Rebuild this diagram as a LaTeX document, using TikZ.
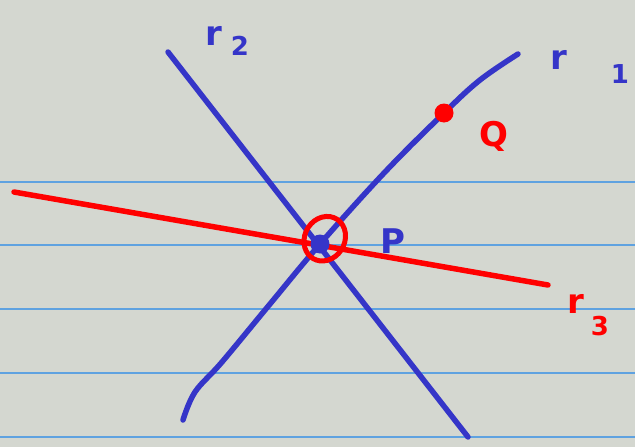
\documentclass[tikz,border=0pt]{standalone}
\usepackage{fontspec}
\setmainfont{DejaVu Sans}
\begin{document}
\begin{tikzpicture}[x=1pt,y=-1pt,line cap=round,line join=round,
  rule/.style={draw=ruleblue,line width=1.2pt},
  blueline/.style={draw=penblue,line width=5.5pt},
  redline/.style={draw=penred,line width=5.5pt},
  bluelbl/.style={text=penblue,font=\bfseries\fontsize{34}{34}\selectfont},
  redlbl/.style={text=penred,font=\bfseries\fontsize{34}{34}\selectfont},
  sublbl/.style={font=\bfseries\fontsize{26}{26}\selectfont}]
\definecolor{bg}{HTML}{D4D7D0}
\definecolor{ruleblue}{HTML}{5FA2E0}
\definecolor{penblue}{HTML}{3535C8}
\definecolor{penred}{HTML}{FF0000}
\fill[bg] (0,0) rectangle (635,447);
\useasboundingbox (0,0) rectangle (635,447);
% ruled lines
\foreach \yy in {182,245,309,373,437} \draw[rule] (0,\yy) -- (635,\yy);
% points
\coordinate (P) at (320,244);
\coordinate (Q) at (444,113);
\coordinate (C) at (323,240);
\coordinate (r2a) at (168,52);
\coordinate (r2b) at (468,437);
\coordinate (r3a) at (14,192);
\coordinate (r3b) at (548,285);
% r2
\draw[blueline] (r2a) -- (r2b);
% r1
\draw[blueline] plot[smooth,tension=0.6] coordinates {(183,420) (195,392) (222,362) (270,304) (P) (385,172) (Q) (480,80) (518,54)};
% r3
\draw[redline] (r3a) -- (r3b);
% dots
\fill[penblue] (P) circle (9.5);
\fill[penred] (Q) circle (9.5);
% loop around P
\draw[penred,line width=5pt,rotate around={-30:(C)}] ([shift={(150:19)}]C) arc[start angle=150,end angle=500,x radius=20,y radius=23];
% labels
\node[bluelbl] (l2) at (214,36) {r};
\node[bluelbl,sublbl] (l2s) at (240,46) {2};
\node[bluelbl] (l1) at (559,60) {r};
\node[bluelbl,sublbl] (l1s) at (620,74) {1};
\node[redlbl] (lq) at (494,136) {Q};
\node[bluelbl] (lp) at (393,241) {P};
\node[redlbl] (l3) at (576,304) {r};
\node[redlbl,sublbl] (l3s) at (600,326) {3};
\end{tikzpicture}
\end{document}
